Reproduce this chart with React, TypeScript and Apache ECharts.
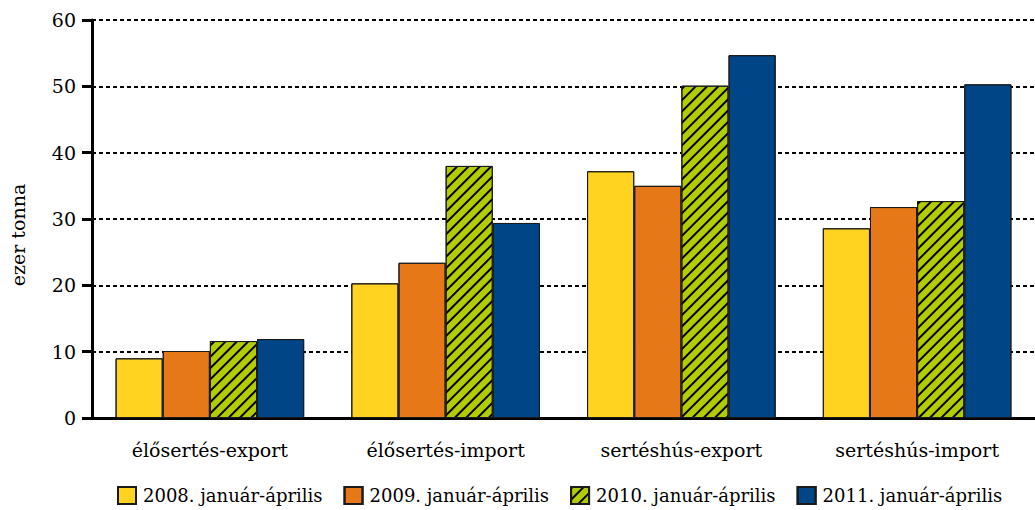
import React, { useEffect, useRef } from "react";
import * as echarts from "echarts";

const categories = ["élősertés-export", "élősertés-import", "sertéshús-export", "sertéshús-import"];
const seriesNames = ["2008. január-április", "2009. január-április", "2010. január-április", "2011. január-április"];
const v2008 = [9.0, 20.3, 37.2, 28.6];
const v2009 = [10.1, 23.4, 35.0, 31.8];
const v2010 = [11.6, 38.0, 50.1, 32.7];
const v2011 = [11.9, 29.4, 54.7, 50.3];
const colors = ["#FFD320", "#E67817", "#B3CC00", "#004586"];
const yTicks = { min: 0, max: 60, interval: 10 };

const FONT = "'DejaVu Serif', 'Liberation Serif', serif";

export default function App() {
  const ref = useRef<HTMLDivElement>(null);
  useEffect(() => {
    document.body.style.margin = "0";
    const chart = echarts.init(ref.current!, null, { renderer: "svg" });
    const values = [v2008, v2009, v2010, v2011];
    const noDecal = { symbol: "none" };
    const hatch = {
      symbol: "rect",
      color: "#000",
      dashArrayX: [1, 0],
      dashArrayY: [1.2, 6],
      rotation: -Math.PI / 4,
    };
    chart.setOption({
      animation: false,
      aria: { enabled: true, decal: { show: true } },
      textStyle: { fontFamily: FONT },
      grid: { left: 92, top: 20, width: 947, height: 398 },
      legend: {
        top: 486,
        left: 117,
        padding: 0,
        icon: "rect",
        itemWidth: 18,
        itemHeight: 17,
        itemGap: 21,
        textStyle: { fontFamily: FONT, fontSize: 18, color: "#000", padding: [0, 0, 0, 2] },
        data: seriesNames,
      },
      graphic: [
        {
          type: "text",
          x: 18,
          y: 235,
          rotation: Math.PI / 2,
          style: {
            text: "ezer tonna",
            font: `19px ${FONT}`,
            fill: "#000",
            textAlign: "center",
            textVerticalAlign: "middle",
          },
        },
      ],
      xAxis: {
        type: "category",
        data: categories,
        axisLine: { lineStyle: { color: "#000", width: 3 } },
        axisTick: { length: 12, lineStyle: { color: "#000", width: 3 } },
        axisLabel: { fontFamily: FONT, fontSize: 19, color: "#000", margin: 22 },
      },
      yAxis: {
        type: "value",
        min: yTicks.min,
        max: yTicks.max,
        interval: yTicks.interval,
        axisLine: { show: true, lineStyle: { color: "#000", width: 3 } },
        axisTick: { show: true, length: 10, lineStyle: { color: "#000", width: 3 } },
        axisLabel: { fontFamily: FONT, fontSize: 19, color: "#000", margin: 16 },
        splitLine: { lineStyle: { color: "#000", width: 2, type: [4, 3] } },
      },
      series: seriesNames.map((name, i) => ({
        name,
        type: "bar",
        data: values[i],
        barGap: "0%",
        barCategoryGap: "20%",
        itemStyle: {
          color: colors[i],
          borderColor: "#1a1a1a",
          borderWidth: 1,
          decal: i === 2 ? hatch : noDecal,
        },
      })),
    });
    return () => chart.dispose();
  }, []);
  return <div ref={ref} style={{ width: 1035, height: 510 }} />;
}
